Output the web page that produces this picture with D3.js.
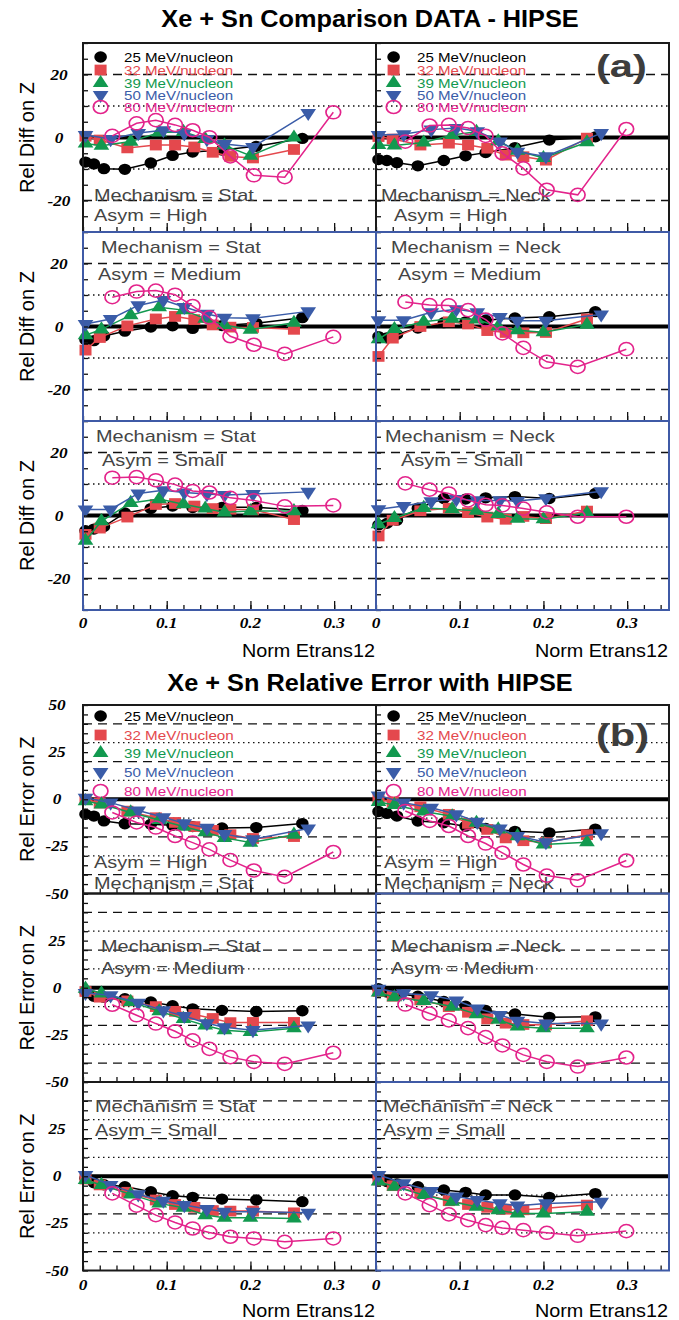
<!DOCTYPE html>
<html>
<head>
<meta charset="utf-8">
<script src="https://cdn.jsdelivr.net/npm/d3@7"></script>
<style>
    body { margin: 0; background: #fff; }
    svg text { font-family: "Liberation Sans", Arial, Helvetica, sans-serif; }
    .num { font-family: "Liberation Serif", "Times New Roman", serif; font-weight: bold; font-style: italic; }
</style>
</head>
<body>
<svg id="chart" width="679" height="1320"></svg>
<script>
// beam energies (MeV/nucleon) and the Norm Etrans12 bin centres of each one
const energies = ["25", "32", "39", "50", "80"];
const x25 = [0.003, 0.013, 0.025, 0.05, 0.081, 0.107, 0.131, 0.166, 0.207, 0.262];
const x32 = [0.003, 0.02, 0.053, 0.087, 0.11, 0.133, 0.155, 0.176, 0.203, 0.252];
const x39 = [0.003, 0.022, 0.057, 0.091, 0.12, 0.146, 0.169, 0.2, 0.252];
const x50 = [0.003, 0.033, 0.066, 0.096, 0.121, 0.148, 0.169, 0.203, 0.269];
const x80 = [0.035, 0.064, 0.087, 0.11, 0.131, 0.151, 0.176, 0.204, 0.241, 0.299];

// (a) relative difference on Z, one array per energy
const diffStatHigh = [
    [-7.8, -8.4, -9.9, -10.1, -8.1, -5.7, -4.6, -4.0, -2.8, -0.3],
    [0.4, -0.8, -3.3, -2.4, -2.4, -3.0, -4.7, -6.0, -6.5, -3.8],
    [-1.9, -2.6, -1.3, 1.6, 1.8, -0.5, -2.5, -5.8, 0.0],
    [0.8, -0.5, 1.4, 2.3, 1.3, -0.5, -2.1, -3.0, 7.8],
    [0.5, 4.5, 5.5, 4.0, 2.3, 0.1, -6.0, -12.0, -12.6, 8.0]
];
const diffNeckHigh = [
    [-7.0, -7.3, -8.0, -9.0, -7.3, -5.8, -4.8, -3.2, -0.8, 0.2],
    [0.3, -0.5, -2.4, -1.8, -2.4, -3.4, -5.6, -6.1, -7.2, -0.2],
    [-2.4, -2.5, -1.6, 0.8, 1.8, -1.2, -4.2, -6.5, -1.5],
    [0.8, 1.0, 2.5, 3.0, 2.0, -1.3, -4.5, -6.0, 1.4],
    [-1.3, 3.8, 4.0, 3.0, 0.5, -5.0, -9.8, -16.6, -18.2, 2.7]
];
const diffStatMedium = [
    [-4.2, -4.5, -3.0, -1.5, -0.2, 0.2, -0.6, 0.3, 1.0, 2.8],
    [-7.5, -3.5, 0.2, 2.4, 3.2, 2.2, 0.5, -0.2, -0.3, -0.9],
    [-2.8, -0.9, 3.6, 6.1, 5.2, 2.5, 0.5, -1.0, 1.2],
    [0.8, 2.4, 6.7, 8.4, 6.2, 4.0, 2.8, 2.6, 4.8],
    [9.3, 11.1, 11.4, 10.1, 6.5, 2.9, -3.1, -5.8, -8.7, -3.3]
];
const diffNeckMedium = [
    [-3.2, -3.6, -2.5, -0.5, 1.2, 1.5, 2.0, 2.7, 3.1, 4.7],
    [-9.5, -3.7, 0.0, 1.5, 0.8, -1.3, -1.9, -2.0, -1.9, 2.4],
    [-4.0, -0.8, 1.5, 2.5, 2.2, 0.0, -1.2, -1.8, 0.6],
    [2.0, 2.0, 4.5, 5.5, 4.5, 3.0, 1.8, 1.8, 3.8],
    [7.8, 6.8, 6.7, 5.2, 2.2, -2.2, -6.8, -11.2, -12.8, -7.2]
];
const diffStatSmall = [
    [-4.8, -4.3, -3.5, 0.8, 2.2, 3.0, 2.5, 2.6, 2.6, 1.6],
    [-6.0, -4.0, -0.5, 3.5, 3.8, 3.0, 2.2, 2.0, 1.8, -1.3],
    [-8.0, -1.8, 4.0, 5.2, 3.6, 2.2, 1.0, 1.4, 1.4],
    [1.9, 1.9, 7.0, 8.0, 7.3, 6.8, 6.5, 6.8, 7.5],
    [12.0, 12.2, 11.2, 9.8, 7.8, 7.3, 5.6, 4.8, 2.9, 3.2]
];
const diffNeckSmall = [
    [-3.0, -2.5, -1.5, 2.3, 5.4, 5.2, 5.6, 6.0, 5.4, 7.0],
    [-6.5, -1.5, 1.5, 2.3, 0.9, -0.5, -1.2, -0.3, -1.0, 1.4],
    [-2.8, -0.8, 2.4, 2.0, 1.5, 0.5, -1.0, -1.2, 0.8],
    [2.0, 3.0, 4.5, 5.2, 4.8, 4.8, 4.6, 5.5, 7.7],
    [10.2, 8.2, 7.0, 4.8, 3.4, 3.2, 2.2, 1.0, -0.4, -0.4]
];

// (b) relative error on Z
const errStatHigh = [
    [-8.0, -8.9, -11.5, -13.0, -13.3, -13.8, -14.5, -15.2, -15.0, -12.9],
    [0.0, -2.0, -6.3, -9.8, -12.3, -14.5, -16.5, -18.8, -20.8, -19.8],
    [-1.0, -2.7, -7.0, -11.0, -14.5, -17.5, -20.5, -23.0, -18.8],
    [0.8, -1.8, -6.0, -9.6, -12.8, -15.2, -18.5, -21.2, -15.5],
    [-7.0, -12.3, -15.0, -19.5, -23.0, -26.6, -32.3, -37.8, -41.2, -28.0]
];
const errNeckHigh = [
    [-6.5, -7.5, -8.9, -11.6, -12.5, -14.3, -15.5, -17.0, -17.8, -15.8],
    [0.0, -1.5, -4.0, -8.0, -12.8, -16.0, -20.5, -22.0, -23.0, -18.8],
    [-1.5, -3.0, -6.5, -9.0, -12.5, -16.0, -19.6, -24.0, -22.8],
    [2.0, -1.8, -4.5, -8.0, -12.0, -15.5, -19.5, -22.8, -18.0],
    [-6.2, -11.5, -14.2, -19.5, -23.5, -28.4, -34.6, -40.5, -43.0, -32.5]
];
const errStatMedium = [
    [-2.3, -4.5, -5.0, -5.8, -7.5, -9.5, -11.2, -12.0, -12.6, -12.2],
    [-2.0, -5.0, -7.0, -10.0, -12.5, -14.2, -16.3, -18.5, -18.4, -18.4],
    [-0.5, -3.0, -7.5, -12.5, -16.5, -20.0, -22.5, -23.5, -21.5],
    [-2.8, -4.0, -8.0, -12.0, -15.0, -18.8, -21.0, -22.5, -20.0],
    [-9.0, -14.6, -19.0, -23.1, -27.9, -32.4, -36.8, -39.3, -40.4, -34.5]
];
const errNeckMedium = [
    [-0.5, -2.3, -3.0, -4.5, -7.3, -9.8, -12.0, -13.9, -15.7, -15.4],
    [-2.0, -4.5, -6.5, -10.0, -13.0, -16.5, -18.8, -19.5, -19.8, -17.5],
    [-2.5, -5.0, -7.0, -10.0, -14.0, -17.0, -20.5, -21.5, -21.5],
    [-0.5, -3.0, -4.0, -6.8, -11.0, -14.5, -17.5, -19.0, -19.0],
    [-8.9, -13.7, -17.3, -21.4, -26.2, -30.6, -35.6, -39.3, -41.8, -37.0]
];
const errStatSmall = [
    [-1.0, -3.5, -4.5, -5.5, -8.2, -10.3, -11.2, -12.1, -12.6, -13.5],
    [-1.5, -4.6, -8.5, -12.6, -15.0, -16.5, -18.2, -18.5, -18.5, -19.4],
    [-2.0, -4.6, -9.6, -14.4, -16.7, -20.6, -22.0, -22.0, -22.4],
    [0.7, -4.6, -9.6, -13.0, -15.3, -17.4, -18.8, -18.8, -19.4],
    [-9.1, -15.6, -20.6, -24.5, -27.7, -29.8, -32.1, -33.0, -34.8, -33.0]
];
const errNeckSmall = [
    [-0.5, -2.8, -4.0, -5.5, -7.3, -8.5, -9.9, -9.9, -11.2, -9.2],
    [-2.0, -5.0, -9.0, -13.0, -15.0, -16.5, -17.5, -17.8, -17.0, -15.3],
    [-2.8, -5.5, -9.9, -13.5, -16.2, -18.0, -19.7, -19.7, -18.8],
    [0.7, -3.7, -7.8, -10.8, -12.6, -14.4, -15.6, -14.4, -13.5],
    [-9.1, -15.3, -20.2, -23.3, -25.9, -27.4, -28.6, -30.0, -31.6, -29.1]
];

const xTickLabels = [0, 0.1, 0.2, 0.3];
const diffTickLabels = [20, 0, -20];
const errTickLabels = [50, 25, 0, -25, -50];

const xByEnergy = [x25, x32, x39, x50, x80];
const colors = ["#000000", "#e4484d", "#12994f", "#3a5ca8", "#e3238b"];
const symbols = [d3.symbolCircle, d3.symbolSquare, d3.symbolTriangle, d3.symbolTriangle, d3.symbolCircle];
const symSize = [100, 115, 85, 85, 135];
const blue = "#3f5aa6";
const sx = 1.17; // the original figure is stretched sideways

const svg = d3.select("#chart");
const colX = [83, 376];
const panelW = 293;
const x = d3.scaleLinear().domain([0, 0.35]).range([0, panelW]);

function stretchedText(g, px, py, str, size, scale) {
    return g.append("text")
        .attr("transform", `translate(${px},${py}) scale(${scale},1)`)
        .attr("font-size", size)
        .text(str);
}

function marker(g, i, px, py) {
    const m = g.append("path")
        .attr("d", d3.symbol().type(symbols[i]).size(symSize[i])())
        .attr("transform", `translate(${px},${py}) scale(1.12,1)` + (i === 3 ? " rotate(180)" : ""));
    if (i === 4) {
        m.attr("fill", "none").attr("stroke", colors[i]).attr("stroke-width", 1.5);
    } else {
        m.attr("fill", colors[i]);
    }
}

const figA = {
    top: 43, h: 189, domain: [-30, 30],
    dashed: [20, -20], dotted: [10, -10], minor: d3.range(-30, 31, 5),
    labels: diffTickLabels, labelX: -24,
    panels: [[diffStatHigh, diffNeckHigh], [diffStatMedium, diffNeckMedium], [diffStatSmall, diffNeckSmall]],
    frame: (r, c) => r === 0 ? "#1a1a1a" : blue,
    legendY: [14, 27, 40, 52, 64], legendFont: 12, legendScale: 1.26,
    yTitle: "Rel Diff on Z",
    notes: [
        [[[11, 158, "Mechanism = Stat"], [11, 178, "Asym = High"]], [[5, 158, "Mechanism = Neck"], [18, 178, "Asym = High"]]],
        [[[18, 21, "Mechanism = Stat"], [15, 48, "Asym = Medium"]], [[15, 21, "Mechanism = Neck"], [22, 48, "Asym = Medium"]]],
        [[[13, 21, "Mechanism = Stat"], [19, 45, "Asym = Small"]], [[9, 21, "Mechanism = Neck"], [25, 45, "Asym = Small"]]]
    ],
    title: "Xe + Sn  Comparison DATA - HIPSE", titleY: 27, titleScale: 1.1,
    tag: "(a)", tagY: 77, xLabY: 628, xTitleY: 657
};
const figB = {
    top: 705, h: 188.5, domain: [-50, 50],
    dashed: [40, 20, -20, -40], dotted: [30, 10, -10, -30], minor: d3.range(-50, 51, 5),
    labels: errTickLabels, labelX: -26,
    panels: [[errStatHigh, errNeckHigh], [errStatMedium, errNeckMedium], [errStatSmall, errNeckSmall]],
    frame: (r, c) => (c === 1 && r > 0) ? blue : "#1a1a1a",
    legendY: [11, 30, 48, 67, 86], legendFont: 13, legendScale: 1.17,
    yTitle: "Rel Error on Z",
    notes: [
        [[[11, 163, "Asym = High"], [11, 184, "Mechanism = Stat"]], [[8, 163, "Asym = High"], [8, 184, "Mechanism = Neck"]]],
        [[[18, 58, "Mechanism = Stat"], [18, 80, "Asym = Medium"]], [[15, 58, "Mechanism = Neck"], [15, 80, "Asym = Medium"]]],
        [[[12, 30, "Mechanism = Stat"], [12, 54, "Asym = Small"]], [[7, 30, "Mechanism = Neck"], [7, 54, "Asym = Small"]]]
    ],
    title: "Xe + Sn Relative Error with HIPSE", titleY: 691, titleScale: 1.1,
    tag: "(b)", tagY: 746, xLabY: 1290, xTitleY: 1317
};

function drawFigure(fig) {
    stretchedText(svg, 370, fig.titleY, fig.title, 23, fig.titleScale)
        .attr("text-anchor", "middle").attr("font-weight", "bold");

    const y = d3.scaleLinear().domain(fig.domain).range([fig.h, 0]);

    fig.panels.forEach((row, r) => {
        const top = fig.top + r * fig.h;
        svg.append("text")
            .attr("transform", `translate(34,${top + fig.h / 2}) rotate(-90)`)
            .attr("text-anchor", "middle")
            .attr("font-size", 20)
            .text(fig.yTitle);

        row.forEach((series, c) => {
            const g = svg.append("g").attr("transform", `translate(${colX[c]},${top})`);

            // grid lines
            g.selectAll(".dash").data(fig.dashed).join("line")
                .attr("x1", 0).attr("x2", panelW).attr("y1", d => y(d)).attr("y2", d => y(d))
                .attr("stroke", "#111").attr("stroke-width", 1.3).attr("stroke-dasharray", "9,6");
            g.selectAll(".dot").data(fig.dotted).join("line")
                .attr("x1", 0).attr("x2", panelW).attr("y1", d => y(d)).attr("y2", d => y(d))
                .attr("stroke", "#111").attr("stroke-width", 1.3).attr("stroke-dasharray", "1.5,3.5");
            g.append("line")
                .attr("x1", 0).attr("x2", panelW).attr("y1", y(0)).attr("y2", y(0))
                .attr("stroke", "#000").attr("stroke-width", 4);

            // annotations
            fig.notes[r][c].forEach(n => {
                stretchedText(g, n[0], n[1], n[2], 17, sx).attr("fill", "#444");
            });

            // legend on the top row
            if (r === 0) {
                energies.forEach((e, i) => {
                    marker(g, i, 17.6, fig.legendY[i]);
                    stretchedText(g, 41, fig.legendY[i] + 4.5, `${e} MeV/nucleon`, fig.legendFont, fig.legendScale)
                        .attr("fill", colors[i]);
                });
            }

            // series
            series.forEach((vals, i) => {
                const pts = vals.map((v, k) => [xByEnergy[i][k], v]);
                g.append("path")
                    .datum(pts)
                    .attr("fill", "none")
                    .attr("stroke", colors[i])
                    .attr("stroke-width", 1.5)
                    .attr("d", d3.line().x(d => x(d[0])).y(d => y(d[1])));
                pts.forEach(d => marker(g, i, x(d[0]), y(d[1])));
            });

            // ticks
            g.append("g")
                .call(d3.axisLeft(y).tickValues(fig.minor).tickSize(-5).tickFormat(""))
                .select(".domain").remove();
            g.append("g")
                .attr("transform", `translate(0,${fig.h})`)
                .call(d3.axisBottom(x).tickValues(d3.range(0, 0.35, 0.02)).tickSize(-5).tickFormat(""))
                .select(".domain").remove();
            g.append("g")
                .attr("transform", `translate(0,${fig.h})`)
                .call(d3.axisBottom(x).tickValues([0.1, 0.2, 0.3]).tickSize(-9).tickFormat(""))
                .select(".domain").remove();
            g.selectAll(".tick line").attr("stroke", "#111").attr("stroke-width", 1.3);

            // frame
            g.append("rect")
                .attr("x", 0).attr("y", 0).attr("width", panelW).attr("height", fig.h)
                .attr("fill", "none").attr("stroke", fig.frame(r, c)).attr("stroke-width", 2);

            // y labels on the left column only
            if (c === 0) {
                const labs = fig.labels.filter(v => !(r > 0 && v === fig.domain[1]));
                labs.forEach(v => {
                    stretchedText(g, fig.labelX, y(v) + 5, v, 15, 1.15)
                        .attr("class", "num").attr("text-anchor", "middle");
                });
            }

            // x labels and title under the bottom row
            if (r === fig.panels.length - 1) {
                xTickLabels.forEach(v => {
                    stretchedText(svg, colX[c] + x(v), fig.xLabY, v, 15, 1.15)
                        .attr("class", "num").attr("text-anchor", "middle");
                });
                stretchedText(svg, colX[c] + panelW - 1, fig.xTitleY, "Norm Etrans12", 18, 1.1)
                    .attr("text-anchor", "end");
            }
        });
    });

    stretchedText(svg, 596, fig.tagY, fig.tag, 32, 1.3)
        .attr("font-weight", "bold").attr("fill", "#3d3d3d");
}

drawFigure(figA);
drawFigure(figB);
</script>
</body>
</html>
